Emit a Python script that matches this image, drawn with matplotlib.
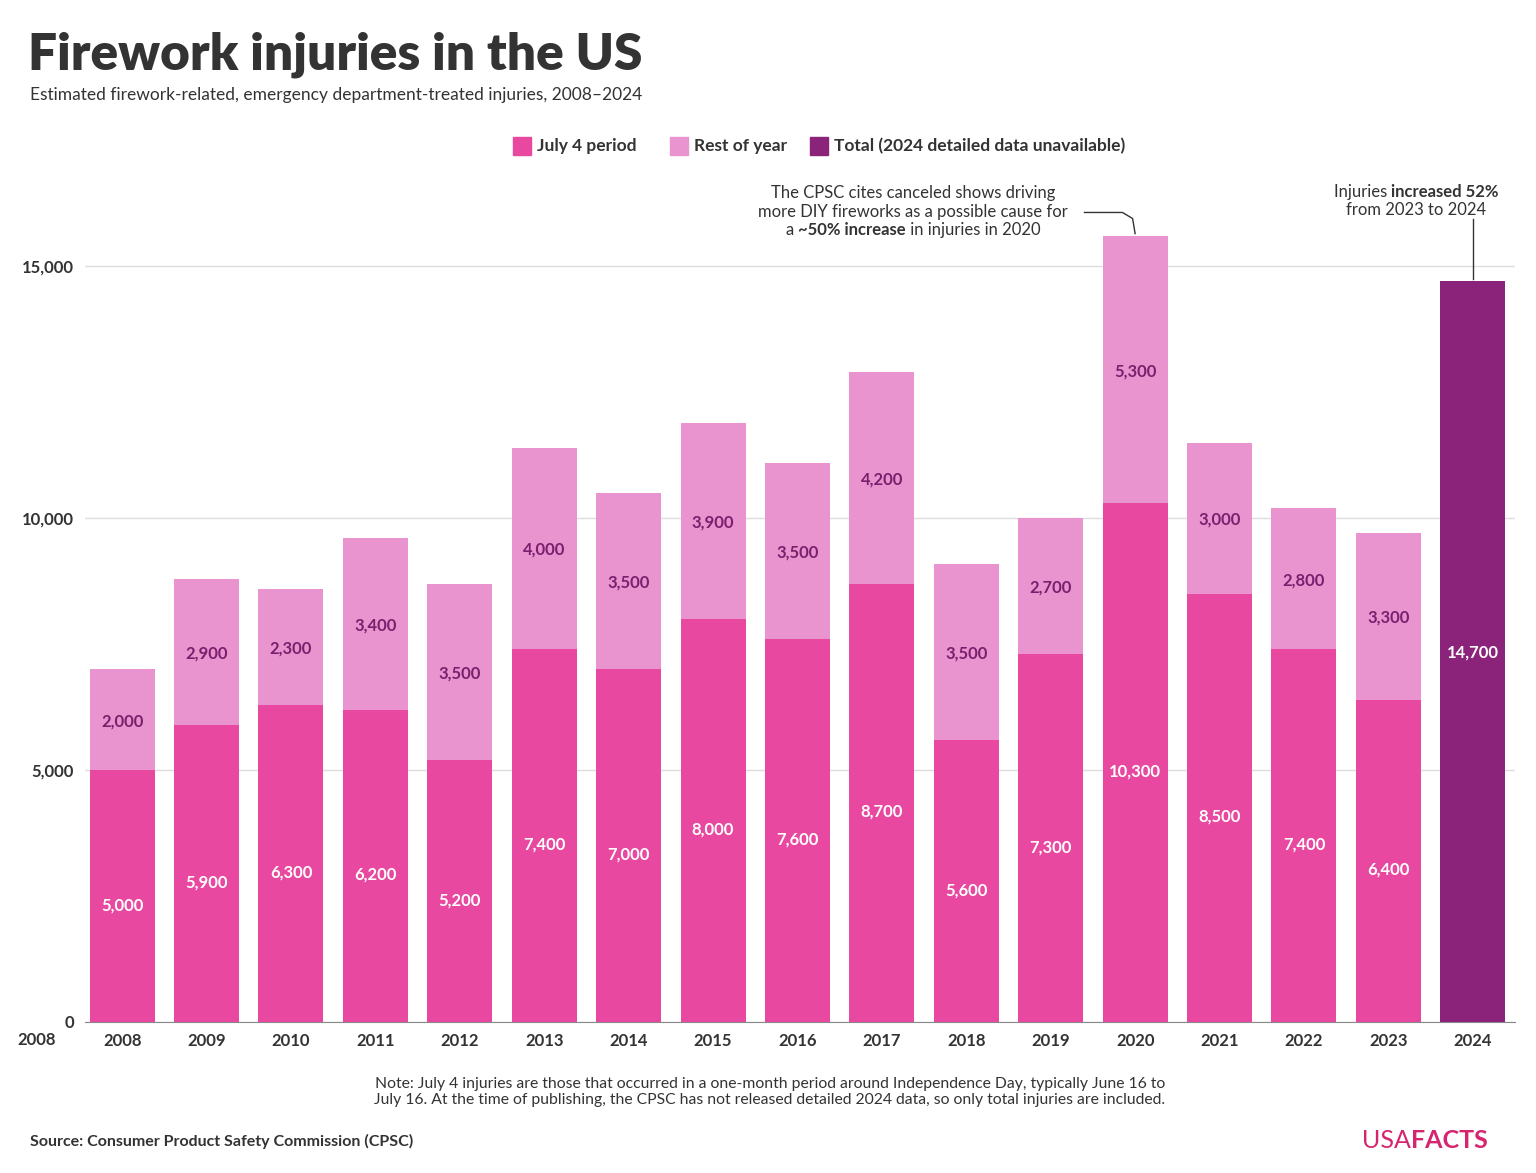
import matplotlib
matplotlib.use("Agg")
import matplotlib.pyplot as plt

plt.rcParams['font.family'] = ['Lato', 'DejaVu Sans']

years = [str(y) for y in range(2008, 2025)]
july4 = [5000, 5900, 6300, 6200, 5200, 7400, 7000, 8000, 7600, 8700, 5600, 7300, 10300, 8500, 7400, 6400]
rest = [2000, 2900, 2300, 3400, 3500, 4000, 3500, 3900, 3500, 4200, 3500, 2700, 5300, 3000, 2800, 3300]
total_2024 = 14700

C_J = '#E8489F'
C_R = '#EA94CF'
C_T = '#8B237A'
C_TXT = '#7A1F6E'

W, H = 1536, 1173
fig = plt.figure(figsize=(W/100, H/100), dpi=100)
ax = fig.add_axes([85/W, 1-1022/H, (1515-85)/W, (1022-216)/H])
renderer = fig.canvas.get_renderer()

def runs(cx, cy, parts, fs=12, color='#333333', align='center'):
    objs = []
    for s, bold in parts:
        t = fig.text(0, 0, s, fontsize=fs, fontweight='bold' if bold else 'normal', color=color, va='center', ha='left')
        objs.append(t)
    widths = [t.get_window_extent(renderer).width for t in objs]
    total = sum(widths)
    x = cx - total/2 if align == 'center' else cx
    for t, w in zip(objs, widths):
        t.set_position((x/W, 1-cy/H))
        x += w

xs = list(range(len(july4)))
bw = 0.77
ax.bar(xs, july4, width=bw, color=C_J, zorder=3)
ax.bar(xs, rest, width=bw, bottom=july4, color=C_R, zorder=3)
ax.bar([len(july4)], [total_2024], width=bw, color=C_T, zorder=3)

for x, j, r in zip(xs, july4, rest):
    ax.text(x, j*0.5 - 180, f"{j:,}", ha='center', va='center', color='white', fontsize=12, fontweight='bold', zorder=4)
    ax.text(x, j + r*0.5 - 30, f"{r:,}", ha='center', va='center', color=C_TXT, fontsize=12, fontweight='bold', zorder=4)
ax.text(len(july4), total_2024*0.5 - 20, f"{total_2024:,}", ha='center', va='center', color='white', fontsize=12, fontweight='bold', zorder=4)

ax.set_xlim(-0.44, 16.5)
ax.set_ylim(0, 16000)
ax.set_yticks([0, 5000, 10000, 15000])
ax.set_yticklabels(['0', '5,000', '10,000', '15,000'], fontsize=12, fontweight='bold', color='#333333')
ax.yaxis.set_tick_params(length=0, pad=8)
ax.set_xticks(list(range(17)))
ax.set_xticklabels(years, fontsize=12, fontweight='bold', color='#333333')
ax.xaxis.set_tick_params(length=0, pad=8)
ax.grid(axis='y', color='#dddddd', linewidth=1, zorder=0)
for s in ['top', 'right', 'left']:
    ax.spines[s].set_visible(False)
ax.spines['bottom'].set_color('#888888')
fig.text(37/W, 1-1040/H, '2008', ha='center', va='center', fontsize=12, fontweight='bold', color='#333333')

fig.text(28/W, 1-55/H, 'Firework injuries in the US', fontsize=37, fontweight='heavy', color='#333333', va='center')
fig.text(30/W, 1-95/H, 'Estimated firework-related, emergency department-treated injuries, 2008–2024', fontsize=12.5, color='#333333', va='center')

lx = [513, 670, 810]
labels = ['July 4 period', 'Rest of year', 'Total (2024 detailed data unavailable)']
cols = [C_J, C_R, C_T]
for x0, lab, c in zip(lx, labels, cols):
    fig.patches.append(plt.Rectangle((x0/W, 1-155/H), 18/W, 18/H, transform=fig.transFigure, color=c))
    fig.text((x0+24)/W, 1-146/H, lab, fontsize=12.5, fontweight='bold', color='#333333', va='center')

runs(913, 193, [('The CPSC cites canceled shows driving', False)])
runs(913, 212, [('more DIY fireworks as a possible cause for', False)])
runs(913, 230, [('a ', False), ('~50% increase', True), (' in injuries in 2020', False)])
ax.plot([11.4, 11.85, 11.97, 12], [16070, 16070, 15950, 15650], color='#333333', lw=1, clip_on=False)
runs(1416, 192, [('Injuries ', False), ('increased 52%', True)])
runs(1416, 210, [('from 2023 to 2024', False)])
ax.plot([16, 16], [14750, 15950], color='#333333', lw=1, clip_on=False)

fig.text(770/W, 1-1092/H, 'Note: July 4 injuries are those that occurred in a one-month period around Independence Day, typically June 16 to\nJuly 16. At the time of publishing, the CPSC has not released detailed 2024 data, so only total injuries are included.',
         ha='center', va='center', fontsize=11.3, color='#333333', linespacing=1.2)
fig.text(30/W, 1-1141/H, 'Source: Consumer Product Safety Commission (CPSC)', fontsize=11.5, fontweight='bold', color='#333333', va='center')
runs(1362, 1140, [('USA', False), ('FACTS', True)], fs=18, color='#D6246E', align='left')

fig.savefig('out.png', dpi=100, facecolor='white')
